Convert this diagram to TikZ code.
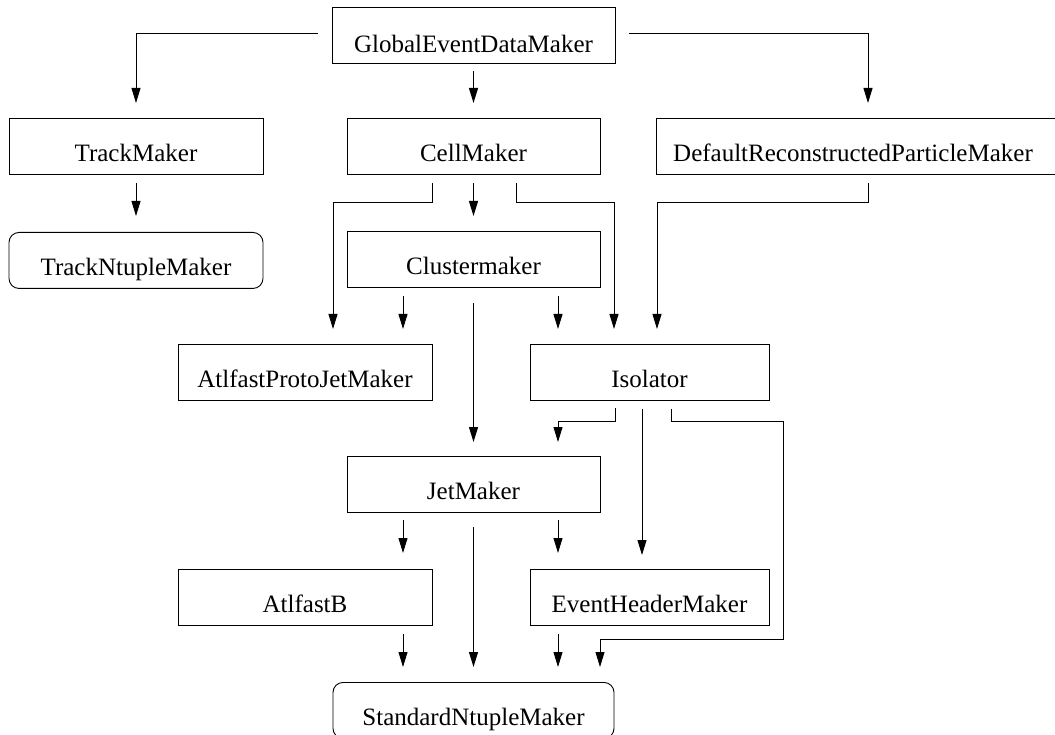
\documentclass[tikz,border=0pt]{standalone}
\usepackage{fontspec}
\setmainfont{Liberation Serif}
\usetikzlibrary{arrows.meta,calc}
\begin{document}
\begin{tikzpicture}[x=1pt,y=-1pt,
  box/.style={draw, line width=0.9pt, rectangle, inner sep=0pt, anchor=north,
    minimum height=56pt, text height=43pt, text depth=13pt,
    font=\fontsize{25pt}{30pt}\selectfont},
  rbox/.style={box, rounded corners=10pt},
  arr/.style={line width=1pt, -{Triangle[length=15pt,width=9pt]}}]
\useasboundingbox (0,0) rectangle (1055,735);
% boxes
\node[box, minimum width=283pt, text height=45pt, text depth=11pt] (global) at (473.5,7) {GlobalEventDataMaker};
\node[box, minimum width=254pt] (track) at (136,118) {TrackMaker};
\node[box, minimum width=253pt] (cell) at (473.5,118) {CellMaker};
\node[box, minimum width=424pt] (drpm) at (868,118) {\hspace*{-30pt}DefaultReconstructedParticleMaker};
\node[rbox, minimum width=254pt] (trackn) at (136,232) {TrackNtupleMaker};
\node[box, minimum width=253pt] (clus) at (473.5,231) {Clustermaker};
\node[box, minimum width=254pt] (proto) at (305,344) {AtlfastProtoJetMaker};
\node[box, minimum width=239pt] (iso) at (649.5,344) {Isolator};
\node[box, minimum width=253pt] (jet) at (473.5,456) {JetMaker};
\node[box, minimum width=254pt] (atlb) at (305,569) {AtlfastB};
\node[box, minimum width=239pt] (ehm) at (649.5,569) {EventHeaderMaker};
\node[rbox, minimum width=281pt] (std) at (473.5,682) {StandardNtupleMaker};
% connectors
\draw[arr] ($(global.west)+(-14,-1.5)$) -| ($(track.north)+(0,-15)$);
\draw[arr] ($(global.east)+(14,-1.5)$) -| ($(drpm.north)+(0,-15)$);
\draw[arr] ($(global.south)+(0,7)$) -- ($(cell.north)+(0,-15)$);
\draw[arr] ($(track.south)+(0,8)$) -- ($(trackn.north)+(0,-16)$);
\draw[arr] ($(cell.south)+(0,8)$) -- ($(clus.north)+(0,-15)$);
\draw[arr] ($(cell.south)+(-41.5,8)$) -- ++(0,20) -| ($(proto.north)+(28,-15)$);
\draw[arr] ($(cell.south)+(42.5,8)$) -- ++(0,20) -| ($(iso.north)+(-35.5,-15)$);
\draw[arr] ($(clus.south)+(-70.5,8)$) -- ($(proto.north)+(98,-15)$);
\draw[arr] ($(clus.south)+(84.5,8)$) -- ($(iso.north)+(-91.5,-15)$);
\draw[arr] ($(clus.south)+(0,15)$) -- ($(jet.north)+(0,-14)$);
\draw[arr] ($(drpm.south)+(0,8)$) -- ++(0,20) -| ($(iso.north)+(7.5,-15)$);
\draw[arr] ($(iso.south)+(-34.5,7)$) -- ++(0,14) -| ($(jet.north)+(84.5,-14)$);
\draw[arr] ($(iso.south)+(-7.5,8)$) -- ($(ehm.north)+(-7.5,-14)$);
\draw[arr] ($(iso.south)+(21.5,8)$) -- ++(0,13) -| ($(ehm.south east)+(14,14)$) -| ($(std.north)+(126.5,-15)$);
\draw[arr] ($(jet.south)+(-70.5,7)$) -- ($(atlb.north)+(98,-16)$);
\draw[arr] ($(jet.south)+(84.5,7)$) -- ($(ehm.north)+(-91.5,-16)$);
\draw[arr] ($(jet.south)+(0,14)$) -- ($(std.north)+(0,-15)$);
\draw[arr] ($(atlb.south)+(98,8)$) -- ($(std.north)+(-70.5,-15)$);
\draw[arr] ($(ehm.south)+(-91.5,8)$) -- ($(std.north)+(84.5,-15)$);
\end{tikzpicture}
\end{document}
